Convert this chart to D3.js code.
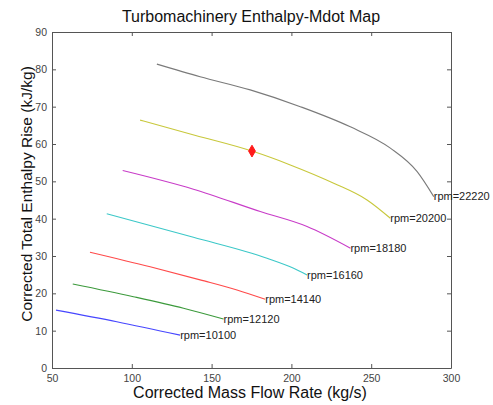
<!DOCTYPE html>
<meta charset="utf-8">
<style>
body { margin: 0; background: #fff; }
text { font-family: "Liberation Sans", Arial, sans-serif; }
.tick text { font-size: 10.5px; fill: #444; }
.axis path, .axis line { stroke: #555; }
</style>
<svg width="493" height="405"></svg>
<script src="https://d3js.org/d3.v7.min.js"></script>
<script>

// speed lines: [mass flow kg/s, enthalpy rise kJ/kg]
let speeds = ["rpm=10100", "rpm=12120", "rpm=14140", "rpm=16160", "rpm=18180", "rpm=20200", "rpm=22220"];
let colors = ["#4646ff", "#3c9a3c", "#ff4a4a", "#3cc8c8", "#c83cc8", "#c8c83c", "#7a7a7a"];

let rpm10100 = [[52.5, 15.5], [90.6, 12.4], [130.3, 8.8]];
let rpm12120 = [[63.0, 22.5], [101.0, 19.1], [132.4, 16.0], [157.5, 13.1]];
let rpm14140 = [[73.8, 31.0], [111.5, 27.1], [142.8, 23.6], [165.9, 20.9], [183.6, 18.4]];
let rpm16160 = [[84.3, 41.3], [138.6, 35.0], [184.7, 29.4], [201.4, 26.7], [209.8, 24.9]];
let rpm18180 = [[94.3, 52.9], [138.6, 47.9], [180.5, 41.9], [209.8, 37.9], [237.0, 32.1]];
let rpm20200 = [[105.2, 66.4], [140.0, 62.3], [175.3, 58.1], [199.3, 54.4], [226.5, 49.5], [247.4, 45.0], [262.0, 40.1]];
let rpm22220 = [[115.7, 81.4], [142.8, 78.0], [174.2, 74.5], [205.6, 70.0], [236.9, 64.6], [262.0, 58.9], [278.8, 52.6], [289.2, 45.9]];
let curves = [rpm10100, rpm12120, rpm14140, rpm16160, rpm18180, rpm20200, rpm22220];

// operating point (red diamond)
let opPoint = [175.3, 58.1];

let xTicks = [50, 100, 150, 200, 250, 300];
let yTicks = [0, 10, 20, 30, 40, 50, 60, 70, 80, 90];

let svg = d3.select("svg");

let x = d3.scaleLinear().domain([50, 300]).range([52, 451]);
let y = d3.scaleLinear().domain([0, 90]).range([368, 32]);

// bottom / left axes with inward ticks
svg.append("g").attr("class", "axis")
	.attr("transform", "translate(0," + y(0) + ")")
	.call(d3.axisBottom(x).tickValues(xTicks).tickSizeInner(-4).tickSizeOuter(0).tickPadding(7));

svg.append("g").attr("class", "axis")
	.attr("transform", "translate(" + x(50) + ",0)")
	.call(d3.axisLeft(y).tickValues(yTicks).tickSizeInner(-4).tickSizeOuter(0).tickPadding(5));

// top / right axes, no labels
svg.append("g").attr("class", "axis")
	.attr("transform", "translate(0," + y(90) + ")")
	.call(d3.axisTop(x).tickValues(xTicks).tickSizeInner(-4).tickSizeOuter(0).tickFormat(""));

svg.append("g").attr("class", "axis")
	.attr("transform", "translate(" + x(300) + ",0)")
	.call(d3.axisRight(y).tickValues(yTicks).tickSizeInner(-4).tickSizeOuter(0).tickFormat(""));

let line = d3.line()
	.x(function(d) { return x(d[0]); })
	.y(function(d) { return y(d[1]); })
	.curve(d3.curveMonotoneX);

curves.forEach(function(c, i) {
	svg.append("path")
		.attr("d", line(c))
		.attr("fill", "none")
		.attr("stroke", colors[i])
		.attr("stroke-width", 1.1);

	let last = c[c.length - 1];
	svg.append("text")
		.attr("x", x(last[0]))
		.attr("y", y(last[1]))
		.attr("dy", "0.35em")
		.attr("font-size", 11)
		.attr("fill", "#222")
		.text(speeds[i]);
});

// diamond marker
svg.append("path")
	.attr("d", d3.symbol().type(d3.symbolDiamond).size(40))
	.attr("transform", "translate(" + x(opPoint[0]) + "," + y(opPoint[1]) + ")")
	.attr("fill", "#ff1a1a")
	.attr("stroke", "#ff1a1a");

// title and axis labels
svg.append("text")
	.attr("x", 251).attr("y", 22)
	.attr("text-anchor", "middle")
	.attr("font-size", 16)
	.attr("fill", "#111")
	.text("Turbomachinery Enthalpy-Mdot Map");

svg.append("text")
	.attr("x", 250).attr("y", 398)
	.attr("text-anchor", "middle")
	.attr("font-size", 16)
	.attr("fill", "#111")
	.text("Corrected Mass Flow Rate (kg/s)");

svg.append("text")
	.attr("transform", "translate(32,194) rotate(-90)")
	.attr("text-anchor", "middle")
	.attr("font-size", 15.5)
	.attr("fill", "#111")
	.text("Corrected Total Enthalpy Rise (kJ/kg)");

</script>
